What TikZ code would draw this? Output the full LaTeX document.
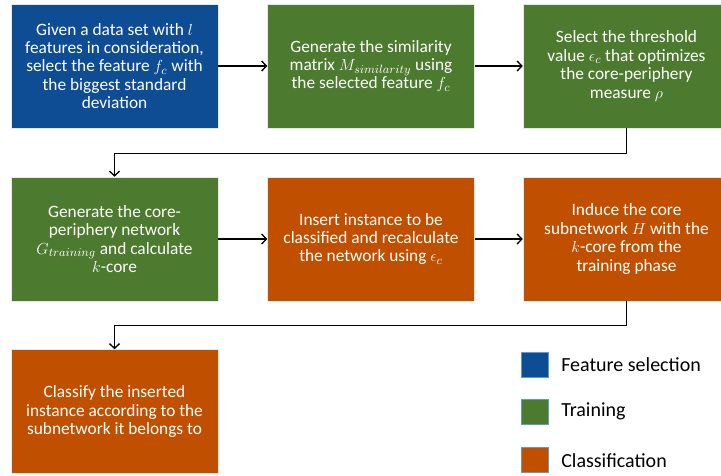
\documentclass[tikz,border=0pt]{standalone}
\usepackage{fontspec}
\setmainfont{Carlito}
\usetikzlibrary{arrows.meta}
\definecolor{fsblue}{RGB}{14,76,148}
\definecolor{trgreen}{RGB}{76,122,46}
\definecolor{clorange}{RGB}{192,80,0}
\definecolor{keyline}{RGB}{91,155,213}

\begin{document}
\begin{tikzpicture}[x=0.75pt,y=-0.75pt,
  box/.style={draw=white!82!gray,line width=0.4pt,text=white,align=center,
    minimum width=155.25pt,minimum height=93pt,inner sep=2pt,
    font=\fontsize{13}{13.8}\selectfont},
  key/.style={draw=keyline,line width=0.6pt,minimum width=20.25pt,minimum height=18.75pt,inner sep=0pt},
  keytext/.style={anchor=west,inner sep=0pt,font=\fontsize{15}{17}\selectfont},
  flow/.style={line width=1pt,-{Straight Barb[length=3.5pt,width=7.5pt]}}]
\useasboundingbox (0,0) rectangle (721,475);
% first row
\node[box,fill=fsblue] (feat) at (114.5,66) {Given a data set with $l$\\features in consideration,\\select the feature $f_c$ with\\the biggest standard\\deviation};
\node[box,fill=trgreen] (simil) at (371,66) {Generate the similarity\\matrix $M_{similarity}$ using\\the selected feature $f_c$};
\node[box,fill=trgreen] (thres) at (626.5,66) {Select the threshold\\value $\epsilon_c$ that optimizes\\the core-periphery\\measure $\rho$};
% second row
\node[box,fill=trgreen] (netw) at (114.5,239) {Generate the core-\\periphery network\\$G_{training}$ and calculate\\$k$-core};
\node[box,fill=clorange] (insert) at (371,239) {Insert instance to be\\classified and recalculate\\the network using $\epsilon_c$};
\node[box,fill=clorange] (induce) at (626.5,239) {Induce the core\\subnetwork $H$ with the\\$k$-core from the\\training phase};
% third row
\node[box,fill=clorange] (classif) at (114.5,411.5) {Classify the inserted\\instance according to the\\subnetwork it belongs to};
% legend
\node[key,fill=fsblue] (kfs) at (534.5,364.5) {};
\node[key,fill=trgreen] (ktr) at (534.5,411.5) {};
\node[key,fill=clorange] (kcl) at (534.5,459.5) {};
\node[keytext] (lfs) at (561,364.5) {Feature selection};
\node[keytext] (ltr) at (561,411.5) {Training};
\node[keytext] (lcl) at (561,461) {Classification};
% arrows
\draw[flow] (feat) -- (simil);
\draw[flow] (simil) -- (thres);
\draw[flow] (thres.south) -- ++(0,25) -| (netw.north);
\draw[flow] (netw) -- (insert);
\draw[flow] (insert) -- (induce);
\draw[flow] (induce.south) -- ++(0,24) -| (classif.north);
\end{tikzpicture}
\end{document}
